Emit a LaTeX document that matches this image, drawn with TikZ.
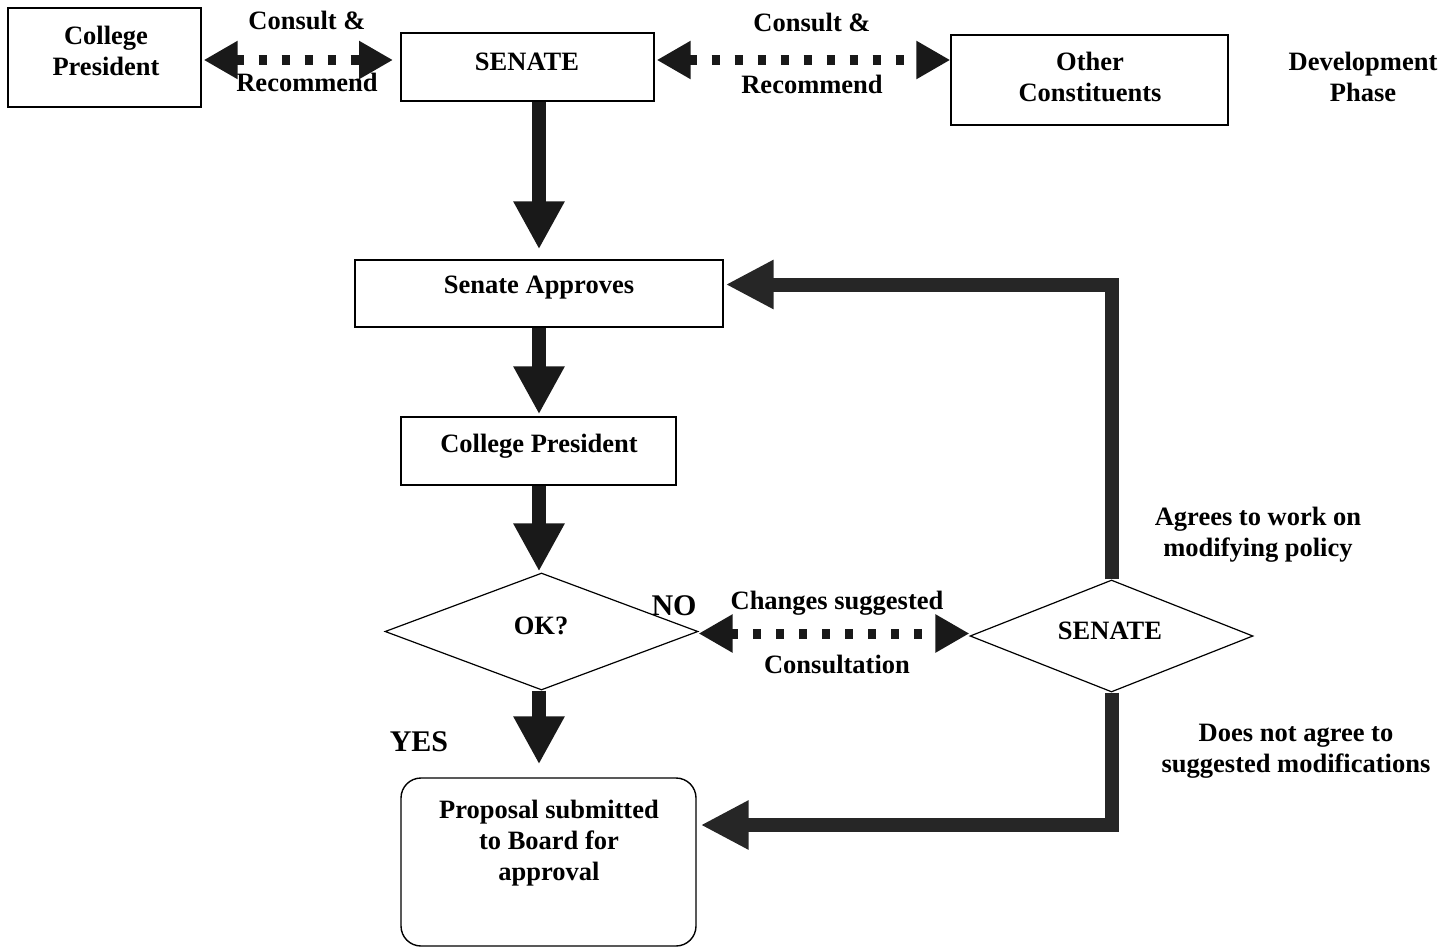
\documentclass[tikz,border=0pt]{standalone}
\usepackage{fontspec}
\setmainfont{Liberation Serif}
\usetikzlibrary{arrows.meta,shapes.geometric}
\begin{document}
\begin{tikzpicture}[x=1pt,y=-1pt,
  lbl/.style={font=\bfseries\fontsize{26.5}{31}\selectfont, align=center, inner sep=0pt},
  big/.style={font=\bfseries\fontsize{30}{34}\selectfont, inner sep=0pt},
  box/.style={draw, line width=1.4pt, rectangle, inner sep=0pt},
  dia/.style={draw, line width=1.2pt, diamond, inner sep=0pt},
  bigarrow/.style={line width=14pt, black!90, -{Triangle[length=48pt,width=48pt]}},
  looparrow/.style={line width=14pt, black!85, -{Triangle[length=48pt,width=46pt]}},
  dotarrow/.style={line width=10pt, black!90, dash pattern=on 8pt off 15pt,
     {Triangle[length=34pt,width=36pt]}-{Triangle[length=34pt,width=36pt]}}
]
\useasboundingbox (0,0) rectangle (1456,947);

% boxes
\node[box, minimum width=193pt, minimum height=99pt] (cp1) at (104.5,57.5) {};
\node[box, minimum width=253pt, minimum height=68pt] (sen1) at (527.5,67) {};
\node[box, minimum width=277pt, minimum height=90pt] (oth) at (1089.5,80) {};
\node[box, minimum width=368pt, minimum height=67pt] (app) at (539,293.5) {};
\node[box, minimum width=275pt, minimum height=68pt] (cp2) at (538.5,451) {};
\node[dia, minimum width=313pt, minimum height=117pt] (ok) at (541.5,631.5) {};
\node[dia, minimum width=283pt, minimum height=112pt] (sen2) at (1111.5,636) {};
\node[box, rounded corners=20pt, minimum width=295pt, minimum height=168pt] (prop) at (548.5,862) {};

% texts in shapes
\node[lbl] (cp1t) at (106,51) {College\\President};
\node[lbl] (sen1t) at (527,62) {SENATE};
\node[lbl] (otht) at (1090,77) {Other\\Constituents};
\node[lbl] (dev) at (1363,77) {Development\\Phase};
\node[lbl] (appt) at (539,288) {Senate Approves};
\node[lbl] (cp2t) at (539,446) {College President};
\node[lbl] (okt) at (541,626) {OK?};
\node[lbl] (sen2t) at (1110,631) {SENATE};
\node[lbl] (proptxt) at (549,843) {Proposal submitted\\to Board for\\approval};

% labels
\node[lbl] (l1a) at (307,20) {Consult \&};
\node[lbl] (l1b) at (307,82) {Recommend};
\node[lbl] (l2a) at (812,22) {Consult \&};
\node[lbl] (l2b) at (812,84) {Recommend};
\node[lbl] (l3a) at (837,603) {Changes suggested};
\node[lbl] (l3b) at (837,664) {Consultation};
\node[big] (no) at (674,606) {NO};
\node[big] (yes) at (419,742) {YES};
\node[lbl] (agr) at (1258,535) {Agrees to work on\\modifying policy};
\node[lbl] (dis) at (1296,751) {Does not agree to\\suggested modifications};

% dotted double arrows
\coordinate (d1a) at (203,60);
\coordinate (d1b) at (393,60);
\draw[dotarrow] (d1a -| cp1.east) ++(2,0) coordinate (d1s) (d1s) -- (d1b);
\draw[dotarrow] (656,60 -| sen1.east) ++(2,0) coordinate (d2s) (d2s) -- (d2s -| oth.west);
\coordinate (d3s) at ([yshift=-2pt]ok.east);
\draw[dotarrow] (d3s) -- (d3s -| sen2.west);

% main flow arrows
\coordinate (a1s) at (sen1.south -| app.north);
\draw[bigarrow] (a1s) -- ([yshift=10pt]app.north);
\draw[bigarrow] (app.south) -- ([yshift=2pt]cp2.north -| app.south);
\coordinate (a3s) at (cp2.south -| app.south);
\draw[bigarrow] (a3s) -- ([yshift=1pt]ok.north -| a3s);
\coordinate (okb) at (ok.south -| app.south);
\draw[bigarrow] (okb) -- ([yshift=13pt]prop.north -| okb);

% loop arrows
\draw[looparrow] (sen2.north) |- ([xshift=2pt,yshift=9pt]app.east);
\draw[looparrow] (sen2.south) |- ([xshift=4pt,yshift=37pt]prop.east);
\end{tikzpicture}
\end{document}
